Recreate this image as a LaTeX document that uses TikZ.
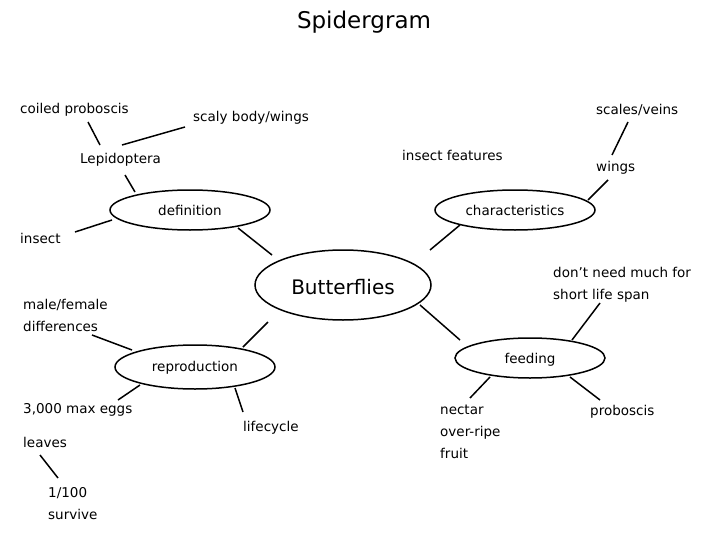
\documentclass[tikz,border=0pt]{standalone}
\usepackage{fontspec}
\setmainfont{DejaVu Sans}
\begin{document}
\begin{tikzpicture}[x=1pt,y=-1pt,
  lbl/.style={font=\fontsize{13.5}{22}\selectfont,inner sep=0pt},
  lbll/.style={lbl,anchor=west,align=left},
  ell/.style={draw,line width=1.5pt},
  ln/.style={line width=1.5pt}]
\useasboundingbox (0,0) rectangle (728,546);
\node[font=\fontsize{23}{26}\selectfont] (title) at (364,22) {Spidergram};
\draw[ell] (343,285) ellipse [x radius=88,y radius=35];
\node[font=\fontsize{20}{24}\selectfont] (bf) at (343,287) {Butterflies};
\draw[ell] (190,210) ellipse [x radius=80,y radius=20];
\node[lbl] (def) at (190,210) {definition};
\draw[ell] (515,210) ellipse [x radius=80,y radius=20];
\node[lbl] (cha) at (515,210) {characteristics};
\draw[ell] (195,367) ellipse [x radius=80,y radius=22];
\node[lbl] (rep) at (195,368) {reproduction};
\draw[ell] (530,358) ellipse [x radius=75,y radius=20];
\node[lbl] (fee) at (530,360) {feeding};
\node[lbll] (cp) at (20,110) {coiled proboscis};
\node[lbll] (sb) at (193,118) {scaly body/wings};
\node[lbll] (lep) at (80,160) {Lepidoptera};
\node[lbll] (ins) at (20,238) {insect};
\node[lbll] (if) at (402,155) {insect features};
\node[lbll] (sv) at (596,110) {scales/veins};
\node[lbll] (wi) at (596,168) {wings};
\node[lbll] (dn) at (553,285) {don’t need much for\\short life span};
\node[lbll] (mf) at (23,315) {male/female\\differences};
\node[lbll] (eg) at (23,410) {3,000 max eggs};
\node[lbll] (lv) at (23,442) {leaves};
\node[lbll] (sv1) at (48,504) {1/100\\survive};
\node[lbll] (lc) at (243,428) {lifecycle};
\node[lbll] (ne) at (440,432) {nectar\\over-ripe\\fruit};
\node[lbll] (pr) at (590,412) {proboscis};
\draw[ln] (272,255) -- (238,228);
\draw[ln] (430,250) -- (460,225);
\draw[ln] (268,322) -- (243,347);
\draw[ln] (420,305) -- (460,340);
\draw[ln] (88,122) -- (100,145);
\draw[ln] (185,127) -- (122,145);
\draw[ln] (125,175) -- (135,192);
\draw[ln] (75,232) -- (112,220);
\draw[ln] (628,122) -- (612,155);
\draw[ln] (608,180) -- (588,200);
\draw[ln] (600,303) -- (572,340);
\draw[ln] (92,335) -- (132,350);
\draw[ln] (118,400) -- (140,385);
\draw[ln] (40,455) -- (58,478);
\draw[ln] (243,412) -- (235,388);
\draw[ln] (470,398) -- (490,377);
\draw[ln] (600,400) -- (570,377);
\end{tikzpicture}
\end{document}
